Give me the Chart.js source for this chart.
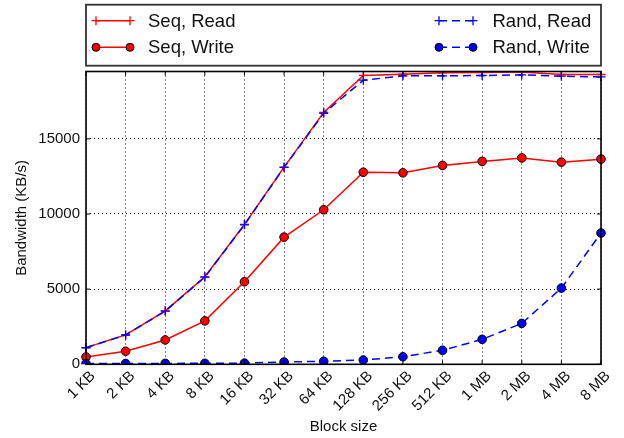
<!DOCTYPE html>
<html>
<head>
<meta charset="utf-8">
<script src="https://cdn.jsdelivr.net/npm/chart.js@4.4.1/dist/chart.umd.min.js"></script>
<style>
    html, body { margin: 0; padding: 0; background: #fff; }
    #wrap { position: relative; width: 624px; height: 438px; }
</style>
</head>
<body>
<div id="wrap"><canvas id="bwChart"></canvas></div>
<script>
// block sizes on the x axis
var blockSizes = ['1 KB', '2 KB', '4 KB', '8 KB', '16 KB', '32 KB', '64 KB', '128 KB', '256 KB', '512 KB', '1 MB', '2 MB', '4 MB', '8 MB'];

// bandwidth in KB/s
var seqRead = [1110, 1960, 3560, 5820, 9310, 13120, 16760, 19220, 19300, 19390, 19420, 19440, 19280, 19280];
var seqWrite = [490, 870, 1620, 2890, 5490, 8460, 10280, 12780, 12740, 13230, 13500, 13730, 13450, 13650];
var randRead = [1100, 1950, 3540, 5800, 9280, 13100, 16700, 18900, 19190, 19190, 19215, 19255, 19170, 19120];
var randWrite = [50, 55, 60, 65, 80, 150, 200, 285, 505, 930, 1660, 2720, 5070, 8730];

var yTicks = [0, 5000, 10000, 15000];
var yMax = 19480;

var FONT = '"Liberation Sans", Arial, Helvetica, sans-serif';

function drawMarker(ctx, style, x, y, color) {
    ctx.save();
    ctx.setLineDash([]);
    if (style === 'cross') {
        ctx.strokeStyle = color;
        ctx.lineWidth = 1.3;
        ctx.beginPath();
        ctx.moveTo(x - 4.5, y); ctx.lineTo(x + 4.5, y);
        ctx.moveTo(x, y - 4.5); ctx.lineTo(x, y + 4.5);
        ctx.stroke();
    } else {
        ctx.fillStyle = color;
        ctx.strokeStyle = '#000';
        ctx.lineWidth = 1;
        ctx.beginPath();
        ctx.arc(x, y, 4, 0, Math.PI * 2);
        ctx.fill();
        ctx.stroke();
    }
    ctx.restore();
}

// khung, vạch tick bên trong và chú thích
var frameAndLegend = {
    id: 'frameAndLegend',
    afterDatasetsDraw(chart) {
        const ctx = chart.ctx;
        const a = chart.chartArea;
        ctx.save();
        ctx.strokeStyle = '#000';
        ctx.lineWidth = 1;
        ctx.setLineDash([]);
        ctx.beginPath();
        chart.scales.x.ticks.forEach((t, i) => {
            const x = chart.scales.x.getPixelForTick(i);
            ctx.moveTo(x, a.bottom); ctx.lineTo(x, a.bottom - 4);
            ctx.moveTo(x, a.top); ctx.lineTo(x, a.top + 4);
        });
        yTicks.forEach(v => {
            const y = chart.scales.y.getPixelForValue(v);
            ctx.moveTo(a.left, y); ctx.lineTo(a.left + 4, y);
            ctx.moveTo(a.right, y); ctx.lineTo(a.right - 4, y);
        });
        ctx.stroke();
        ctx.lineWidth = 1.6;
        ctx.strokeRect(a.left, a.top, a.right - a.left, a.bottom - a.top);
        ctx.restore();
    },
    afterDraw(chart) {
        const ctx = chart.ctx;
        const a = chart.chartArea;
        const box = { left: a.left, top: 4.7, right: a.right, bottom: 65.7 };
        ctx.save();
        ctx.fillStyle = '#fff';
        ctx.fillRect(box.left, box.top, box.right - box.left, box.bottom - box.top);
        ctx.strokeStyle = '#333';
        ctx.lineWidth = 1.8;
        ctx.strokeRect(box.left, box.top, box.right - box.left, box.bottom - box.top);

        const cols = [{ x0: 96, x1: 130, tx: 148 }, { x0: 439, x1: 473, tx: 492.5 }];
        const rows = [20.7, 47.3];
        const place = [[0, 0], [0, 1], [1, 0], [1, 1]];
        chart.data.datasets.forEach((ds, i) => {
            const c = cols[place[i][0]];
            const y = rows[place[i][1]];
            ctx.strokeStyle = ds.borderColor;
            ctx.lineWidth = 1.5;
            ctx.setLineDash(ds.borderDash || []);
            ctx.beginPath();
            ctx.moveTo(c.x0, y);
            ctx.lineTo(c.x1, y);
            ctx.stroke();
            ctx.setLineDash([]);
            const color = ds.pointStyle === 'cross' ? ds.borderColor : ds.backgroundColor;
            drawMarker(ctx, ds.pointStyle, c.x0, y, color);
            drawMarker(ctx, ds.pointStyle, c.x1, y, color);
            ctx.fillStyle = '#111';
            ctx.font = '18.5px ' + FONT;
            ctx.textBaseline = 'middle';
            ctx.textAlign = 'left';
            ctx.fillText(ds.label, c.tx, y + 1);
        });
        ctx.restore();
    }
};

document.addEventListener('DOMContentLoaded', () => {
    if (typeof Chart === 'undefined') {
        console.error('Chart.js chưa được tải');
        return;
    }
    Chart.defaults.font.family = FONT;
    Chart.defaults.color = '#111';

    const canvas = document.querySelector('#bwChart');
    new Chart(canvas, {
        type: 'line',
        data: {
            labels: blockSizes,
            datasets: [{
                label: 'Seq, Read',
                data: seqRead,
                borderColor: '#ff0000',
                backgroundColor: '#ff0000',
                borderWidth: 1.5,
                pointStyle: 'cross',
                pointRadius: 4.5,
                pointBorderWidth: 1.3,
                tension: 0,
                order: 4
            }, {
                label: 'Seq, Write',
                data: seqWrite,
                borderColor: '#ff0000',
                backgroundColor: '#ff0000',
                pointBorderColor: '#000',
                borderWidth: 1.5,
                pointStyle: 'circle',
                pointRadius: 4.3,
                pointBorderWidth: 1,
                tension: 0,
                order: 3
            }, {
                label: 'Rand, Read',
                data: randRead,
                borderColor: '#0000ff',
                backgroundColor: '#0000ff',
                borderWidth: 1.5,
                borderDash: [8, 5],
                pointStyle: 'cross',
                pointRadius: 4.5,
                pointBorderWidth: 1.3,
                tension: 0,
                order: 2
            }, {
                label: 'Rand, Write',
                data: randWrite,
                borderColor: '#0000ff',
                backgroundColor: '#0000ff',
                pointBorderColor: '#000',
                borderWidth: 1.5,
                borderDash: [8, 5],
                pointStyle: 'circle',
                pointRadius: 4.3,
                pointBorderWidth: 1,
                tension: 0,
                order: 1
            }]
        },
        options: {
            responsive: true,
            maintainAspectRatio: false,
            animation: false,
            layout: { padding: { top: 71.5, right: 23, bottom: 0, left: 0 } },
            plugins: {
                legend: { display: false },
                tooltip: { enabled: false }
            },
            scales: {
                x: {
                    offset: false,
                    // border.dash cũng áp dụng cho đường lưới trong v4
                    border: { display: false, dash: [1, 3] },
                    grid: { color: '#000', lineWidth: 1, drawTicks: false },
                    ticks: {
                        autoSkip: false,
                        minRotation: 45,
                        maxRotation: 45,
                        padding: 3,
                        labelOffset: 7,
                        font: { size: 15 },
                        color: '#111'
                    },
                    title: {
                        display: true,
                        text: 'Block size',
                        font: { size: 15 },
                        color: '#111',
                        padding: { top: 0, bottom: 2 }
                    },
                    afterFit(scale) { scale.height = 73.7; }
                },
                y: {
                    min: 0,
                    max: yMax,
                    border: { display: false, dash: [1, 3] },
                    grid: { color: '#000', lineWidth: 1, drawTicks: false },
                    ticks: {
                        padding: 6,
                        font: { size: 15 },
                        color: '#111',
                        callback: v => String(v)
                    },
                    afterBuildTicks(scale) {
                        scale.ticks = yTicks.map(v => ({ value: v }));
                    },
                    title: {
                        display: true,
                        text: 'Bandwidth (KB/s)',
                        font: { size: 15 },
                        color: '#111',
                        padding: { top: 13, bottom: 0 }
                    },
                    afterFit(scale) { scale.width = 86; }
                }
            }
        },
        plugins: [frameAndLegend]
    });
});
</script>
</body>
</html>
